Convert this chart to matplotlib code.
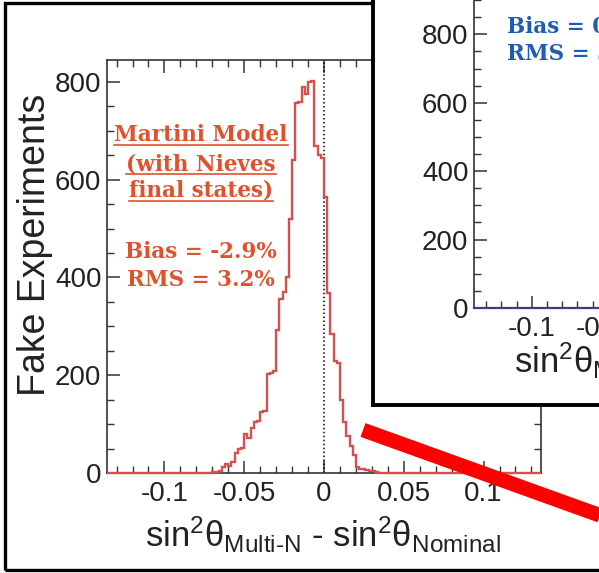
import numpy as np
import matplotlib
matplotlib.use('Agg')
import matplotlib.pyplot as plt
from matplotlib.patches import Rectangle
from matplotlib.lines import Line2D
from matplotlib.ticker import MultipleLocator, FixedLocator

plt.rcParams['font.family'] = ['Liberation Sans', 'DejaVu Sans']
plt.rcParams['axes.unicode_minus'] = False
plt.rcParams['mathtext.fontset'] = 'custom'
plt.rcParams['mathtext.rm'] = 'Liberation Sans'
plt.rcParams['mathtext.it'] = 'Liberation Sans:italic'
plt.rcParams['mathtext.bf'] = 'Liberation Sans:bold'

# ---------------- data ----------------
hist_range = (-0.136, 0.136)
bin_width = 0.002
first_nonzero_edge = -0.074
counts = [0, 0, 2, 3, 4, 12, 18, 15, 22, 40, 49, 52, 80, 72, 92, 104, 106, 124, 126,
          202, 205, 209, 293, 355, 370, 400, 520, 640, 758, 760, 789, 775, 801, 803,
          670, 650, 645, 565, 368, 285, 229, 225, 150, 105, 75, 55, 36, 13, 8, 8, 6,
          4, 4, 3, 1, 0]
y_ticks = [0, 200, 400, 600, 800]
x_ticks = [-0.1, -0.05, 0, 0.05, 0.1]
x_tick_labels = ['-0.1', '-0.05', '0', '0.05', '0.1']
inset_x_ticks = [-0.1, -0.05]
inset_x_tick_labels = ['-0.1', '-0.05']
model_lines = ['Martini Model', '(with Nieves', 'final states)']
stat_lines = ['Bias = -2.9%', 'RMS = 3.2%']
inset_lines = ['Bias = 0', 'RMS = 3']
xlabel = 'sin$^{2}$θ$_{\\mathrm{Multi‐N}}$ - sin$^{2}$θ$_{\\mathrm{Nominal}}$'
ylabel = 'Fake Experiments'

# build full histogram over range
n_bins = int(round((hist_range[1] - hist_range[0]) / bin_width))
edges = hist_range[0] + bin_width * np.arange(n_bins + 1)
full = np.zeros(n_bins)
start = int(round((first_nonzero_edge - hist_range[0]) / bin_width))
full[start:start + len(counts)] = counts

W, H = 599, 573
fig = plt.figure(figsize=(W / 100, H / 100), dpi=100)
fig.patch.set_facecolor('white')

def fx(px):
    return px / W

def fy(py):
    return 1 - py / H

axc = '#333333'
hist_color = '#d65050'
orange = '#e0522e'
blue = '#1f5cb8'

# ---------------- main axes ----------------
ax = fig.add_axes([fx(107), fy(473), fx(541) - fx(107), fy(60) - fy(473)])
ax.stairs(full, edges, color=hist_color, lw=1.7, zorder=3, clip_on=False)
ax.axvline(0, color='black', ls=(0, (1, 1.6)), lw=1.1, zorder=2)
ax.set_xlim(hist_range)
ax.set_ylim(0, 845)
ax.xaxis.set_major_locator(FixedLocator(x_ticks))
ax.set_xticklabels(x_tick_labels)
ax.xaxis.set_minor_locator(MultipleLocator(0.01))
ax.yaxis.set_major_locator(FixedLocator(y_ticks))
ax.yaxis.set_minor_locator(MultipleLocator(50))
for s in ax.spines.values():
    s.set_color(axc)
    s.set_linewidth(1.2)
ax.tick_params(which='both', direction='in', top=True, right=True, color=axc,
               labelsize=20, labelcolor='#222222')
ax.tick_params(which='major', length=9, width=1.1)
ax.tick_params(which='minor', length=5, width=1.0)
ax.tick_params(axis='x', pad=6)
ax.tick_params(axis='y', pad=4)

fig.text(fx(35), fy(245), ylabel, rotation=90, ha='center', va='center',
         fontsize=27, color='#222222')
fig.text(fx(323), fy(547), xlabel, ha='center', va='baseline', fontsize=25,
         color='#222222')

# annotations
t_objs = []
for txt, yb in zip(model_lines, [141, 170, 197]):
    t = fig.text(fx(201), fy(yb), txt, ha='center', va='baseline', fontsize=15.5,
                 family='DejaVu Serif', weight='bold', color=orange)
    t_objs.append((t, yb))
for txt, yb in zip(stat_lines, [258, 286]):
    fig.text(fx(201), fy(yb), txt, ha='center', va='baseline', fontsize=15.5,
             family='DejaVu Serif', weight='bold', color=orange)

fig.canvas.draw()
rend = fig.canvas.get_renderer()
for t, yb in t_objs:
    bb = t.get_window_extent(renderer=rend)
    x0, x1 = bb.x0 / W, bb.x1 / W
    fig.add_artist(Line2D([x0, x1], [fy(yb + 4), fy(yb + 4)], color=orange,
                          lw=1.2, transform=fig.transFigure))

# outer frame of main panel
fig.add_artist(Rectangle((fx(5), fy(570)), fx(700) - fx(5), fy(3) - fy(570),
                         transform=fig.transFigure, fill=False, ec='black',
                         lw=2.4, zorder=5))

# red diagonal stroke
fig.add_artist(Line2D([fx(363), fx(660)], [fy(430), fy(537)], color='#ff0000',
                      lw=10.5, solid_capstyle='butt', transform=fig.transFigure,
                      zorder=8))

# ---------------- inset ----------------
box = Rectangle((fx(373), fy(405)), fx(800) - fx(373), fy(-20) - fy(405),
                transform=fig.transFigure, fc='white', ec='black', lw=2.8,
                zorder=6)
fig.add_artist(box)

ax2 = fig.add_axes([fx(474), fy(308), fx(886) - fx(474), fy(-17) - fy(308)])
ax2.set_zorder(7)
ax2.patch.set_alpha(0)
ax2.set_xlim(-0.138, 0.133)
ax2.set_ylim(0, 950)
ax2.xaxis.set_major_locator(FixedLocator(inset_x_ticks))
ax2.set_xticklabels(inset_x_tick_labels)
ax2.xaxis.set_minor_locator(MultipleLocator(0.01))
ax2.yaxis.set_major_locator(FixedLocator(y_ticks))
ax2.yaxis.set_minor_locator(MultipleLocator(50))
for s in ax2.spines.values():
    s.set_color(axc)
    s.set_linewidth(1.2)
ax2.spines['bottom'].set_color('#3a3f80')
ax2.spines['bottom'].set_linewidth(1.6)
ax2.tick_params(which='both', direction='in', color=axc, labelsize=20,
                labelcolor='#222222')
ax2.tick_params(which='major', length=9, width=1.1)
ax2.tick_params(which='minor', length=5, width=1.0)
ax2.tick_params(axis='x', pad=6)
ax2.tick_params(axis='y', pad=4)
fig.text(fx(692), fy(373), xlabel, ha='center', va='baseline', fontsize=25,
         color='#222222', zorder=9)
for txt, yb in zip(inset_lines, [33, 60]):
    fig.text(fx(507), fy(yb), txt, ha='left', va='baseline', fontsize=15.5,
             family='DejaVu Serif', weight='bold', color=blue, zorder=9)

fig.savefig('out.png', dpi=100)
